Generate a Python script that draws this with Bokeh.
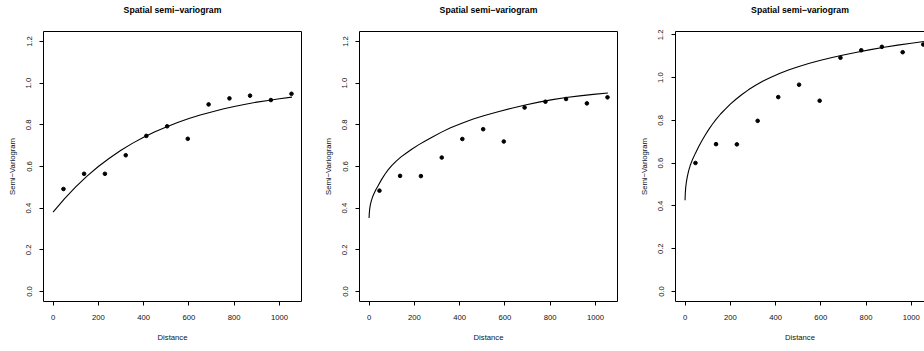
from bokeh.layouts import row
from bokeh.models import Range1d, FixedTicker, PrintfTickFormatter, LinearAxis
from bokeh.plotting import figure
from bokeh.embed import file_html
from bokeh.resources import INLINE

# Empirical semi-variogram: lag-bin centres and semivariances for three fits
lag_distance = [46, 137, 229, 321, 412, 504, 595, 687, 779, 870, 962, 1053]
semivar_a = [0.492, 0.565, 0.565, 0.654, 0.747, 0.793, 0.733, 0.898, 0.927, 0.940, 0.919, 0.949]
semivar_b = [0.484, 0.555, 0.554, 0.643, 0.732, 0.779, 0.720, 0.883, 0.911, 0.924, 0.903, 0.932]
semivar_c = [0.601, 0.689, 0.688, 0.798, 0.909, 0.967, 0.892, 1.093, 1.128, 1.144, 1.119, 1.155]

# Fitted variogram models, sampled along distance
model_a_h = [0, 50, 100, 150, 200, 250, 300, 350, 400, 450, 500, 550, 600, 650, 700,
             750, 800, 850, 900, 950, 1000, 1055]
model_a = [0.381, 0.445, 0.502, 0.554, 0.600, 0.641, 0.678, 0.711, 0.740, 0.767, 0.790,
           0.811, 0.830, 0.847, 0.862, 0.876, 0.888, 0.899, 0.909, 0.917, 0.925, 0.933]

model_b_h = [0, 1, 3, 6, 10, 15, 22, 30, 40, 55, 70, 85, 100, 120, 140, 165, 190, 220,
             250, 280, 320, 360, 410, 460, 510, 570, 630, 690, 750, 810, 870, 930, 990, 1055]
model_b = [0.353, 0.375, 0.398, 0.418, 0.435, 0.452, 0.470, 0.488, 0.508, 0.537, 0.563,
           0.585, 0.604, 0.626, 0.645, 0.665, 0.684, 0.705, 0.724, 0.742, 0.765, 0.786,
           0.808, 0.828, 0.845, 0.863, 0.880, 0.895, 0.909, 0.921, 0.931, 0.939, 0.946, 0.953]

model_c_h = [0, 1, 3, 6, 10, 16, 24, 34, 46, 60, 75, 90, 105, 120, 137, 157, 178, 200,
             225, 250, 280, 310, 345, 380, 420, 460, 500, 550, 600, 650, 700, 760, 820,
             880, 940, 1000, 1056]
model_c = [0.427, 0.458, 0.488, 0.513, 0.537, 0.565, 0.593, 0.620, 0.647, 0.677, 0.706,
           0.733, 0.758, 0.781, 0.805, 0.830, 0.853, 0.876, 0.899, 0.920, 0.943, 0.963,
           0.984, 1.002, 1.021, 1.037, 1.051, 1.067, 1.081, 1.094, 1.106, 1.119, 1.131,
           1.142, 1.152, 1.161, 1.169]

x_tick_values = [0, 200, 400, 600, 800, 1000]
y_tick_values = [0.0, 0.2, 0.4, 0.6, 0.8, 1.0, 1.2]

title_text = "Spatial semi\u2212variogram"
x_label = "Distance"
y_label = "Semi\u2212Variogram"

FONT = "Liberation Sans"
PANEL_W = 316
HEIGHT = 351
LEFT, RIGHT, TOP, BOTTOM = 43, 15, 31, 50
LAST_W = 924 - 2 * PANEL_W


def r_pad(lo, hi):
    d = (hi - lo) * 0.04
    return lo - d, hi + d


def plain_axis(**kw):
    return LinearAxis(ticker=FixedTicker(ticks=[]), major_tick_out=0, major_tick_in=0,
                      minor_tick_out=0, minor_tick_in=0, major_label_text_font_size="0px",
                      axis_line_color="black", axis_line_width=1, **kw)


def make_panel(h, g, fit_h, fit_g, ylim, width, right_border, right_edge):
    x_lo, x_hi = r_pad(0, max(fit_h))
    y_lo, y_hi = r_pad(*ylim)
    full_frame = PANEL_W - LEFT - RIGHT
    frame = width - LEFT - right_border
    x_end = x_lo + (x_hi - x_lo) * frame / full_frame

    p = figure(width=width, height=HEIGHT,
               x_range=Range1d(x_lo, x_end), y_range=Range1d(y_lo, y_hi),
               output_backend="svg", toolbar_location=None,
               x_axis_location=None, y_axis_location=None,
               min_border_left=LEFT, min_border_right=right_border,
               min_border_top=TOP, min_border_bottom=BOTTOM,
               background_fill_color="white", border_fill_color="white",
               outline_line_color=None)
    p.grid.visible = False

    common = dict(major_tick_out=4, major_tick_in=0, minor_tick_out=0, minor_tick_in=0,
                  axis_line_color="black", axis_line_width=1,
                  major_tick_line_color="black", major_tick_line_width=1,
                  major_label_text_font=FONT, major_label_text_font_size="7.7px",
                  major_label_text_color="#111111",
                  axis_label_text_font=FONT, axis_label_text_font_size="7.7px",
                  axis_label_text_font_style="normal", axis_label_text_color="#111111")

    xa = LinearAxis(ticker=FixedTicker(ticks=x_tick_values), axis_label=x_label,
                    major_label_standoff=9, axis_label_standoff=10, **common)
    ya = LinearAxis(ticker=FixedTicker(ticks=y_tick_values), axis_label=y_label,
                    formatter=PrintfTickFormatter(format="%.1f"),
                    major_label_orientation="vertical",
                    major_label_standoff=8, axis_label_standoff=7, **common)
    top = plain_axis(axis_label=title_text, axis_label_text_font=FONT,
                     axis_label_text_font_size="8.7px", axis_label_text_font_style="bold",
                     axis_label_text_color="black", axis_label_standoff=17)
    p.add_layout(xa, "below")
    p.add_layout(ya, "left")
    p.add_layout(top, "above")
    if right_edge:
        p.add_layout(plain_axis(), "right")

    p.line(fit_h, fit_g, line_color="black", line_width=1.1)
    p.scatter(h, g, size=3.6, color="black")
    return p


p1 = make_panel(lag_distance, semivar_a, model_a_h, model_a, (0, 1.2), PANEL_W, RIGHT, True)
p2 = make_panel(lag_distance, semivar_b, model_b_h, model_b, (0, 1.2), PANEL_W, RIGHT, True)
p3 = make_panel(lag_distance, semivar_c, model_c_h, model_c, (0, max(model_c)), LAST_W, 0, False)

layout = row(p1, p2, p3, spacing=0)
open("out.html", "w").write(file_html(layout, INLINE))
